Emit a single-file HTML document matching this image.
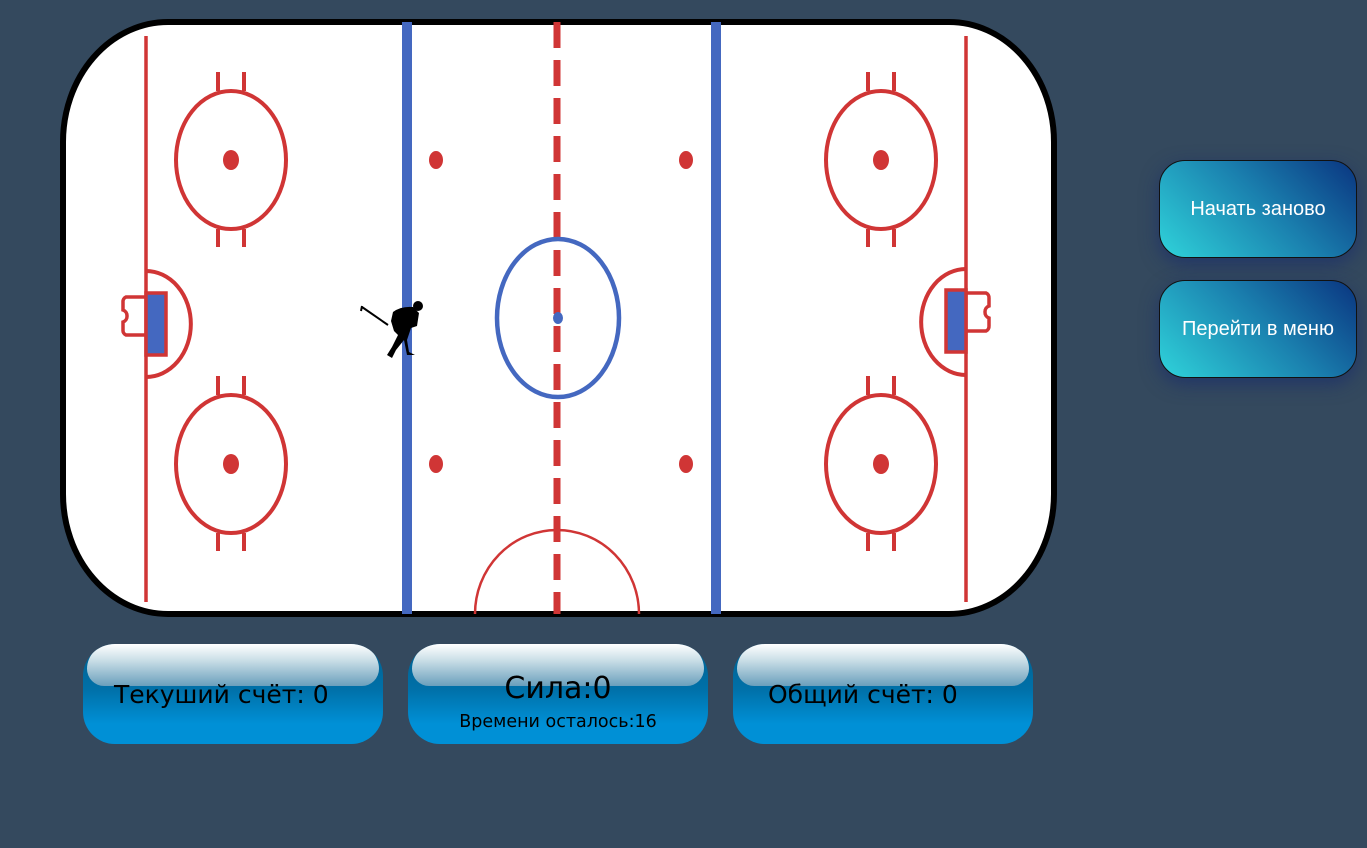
<!DOCTYPE html>
<html><head><meta charset="utf-8"><style>
body{margin:0;width:1367px;height:848px;background:#34495e;position:relative;overflow:hidden;font-family:"DejaVu Sans","Liberation Sans",sans-serif}
.btn{position:absolute;left:1159px;width:196px;height:96px;border:1px solid #111;border-radius:26px;background:linear-gradient(45deg,#2fd3da 0%,#1a7fae 55%,#0a3580 100%);color:#fff;font-family:"Liberation Sans",sans-serif;font-size:20px;display:flex;align-items:center;justify-content:center;box-shadow:0 6px 18px rgba(20,40,110,.6)}
.panel{position:absolute;top:644px;width:300px;height:100px;border-radius:32px;background:linear-gradient(#00608f 0%,#0070a8 45%,#0090d6 80%,#0090d6 100%);overflow:hidden}
.gloss{position:absolute;left:4px;right:4px;top:0;height:42px;border-radius:26px 26px 18px 18px;background:linear-gradient(#fff 0%,#c8dde6 40%,#6a9fbc 100%)}
.pt{position:absolute;color:#000;white-space:nowrap}
</style></head><body>
<svg width="1367" height="848" style="position:absolute;left:0;top:0">
<defs><clipPath id="rk"><rect x="63" y="22" width="991" height="592" rx="105" ry="120"/></clipPath></defs>
<rect x="63" y="22" width="991" height="592" rx="105" ry="120" fill="#fff" stroke="#000" stroke-width="6"/>
<g clip-path="url(#rk)" fill="none">
<line x1="146" y1="36" x2="146" y2="602" stroke="#d03535" stroke-width="3.5"/>
<line x1="966" y1="36" x2="966" y2="602" stroke="#d03535" stroke-width="3.5"/>
<line x1="407" y1="22" x2="407" y2="614" stroke="#4468c0" stroke-width="10"/>
<line x1="716" y1="22" x2="716" y2="614" stroke="#4468c0" stroke-width="10"/>
<line x1="557" y1="22" x2="557" y2="614" stroke="#d03535" stroke-width="7" stroke-dasharray="26 12"/>
<ellipse cx="558" cy="318" rx="61" ry="79" stroke="#4468c0" stroke-width="4.5"/>
<ellipse cx="558" cy="318" rx="5" ry="6" fill="#4468c0"/>
<ellipse cx="557" cy="614" rx="82" ry="84" stroke="#d03535" stroke-width="2.5"/>
<g stroke="#d03535" stroke-width="4">
<ellipse cx="231" cy="160" rx="55" ry="69"/><ellipse cx="231" cy="464" rx="55" ry="69"/>
<ellipse cx="881" cy="160" rx="55" ry="69"/><ellipse cx="881" cy="464" rx="55" ry="69"/>
<path d="M218 72v19M244 72v19M218 229v18M244 229v18M218 376v19M244 376v19M218 533v18M244 533v18"/>
<path d="M868 72v19M894 72v19M868 229v18M894 229v18M868 376v19M894 376v19M868 533v18M894 533v18"/>
<path d="M146 271 A44 52 0 0 1 146 377"/>
<path d="M966 269 A44 52 0 0 0 966 375"/>
<path d="M146 297h-20a5 5 0 0 0-3 5v8a6 6 0 0 1 4 6a6 6 0 0 1-4 6v8a5 5 0 0 0 3 5h20" stroke-width="3.5"/>
<path d="M966 293h20a5 5 0 0 1 3 5v8a6 6 0 0 0-4 6a6 6 0 0 0 4 6v8a5 5 0 0 1-3 5h-20" stroke-width="3.5"/>
</g>
<rect x="146" y="293" width="20" height="62" fill="#4468c0" stroke="#d03535" stroke-width="3.5"/>
<rect x="946" y="290" width="20" height="62" fill="#4468c0" stroke="#d03535" stroke-width="3.5"/>
<g fill="#d03535">
<ellipse cx="231" cy="160" rx="8" ry="10"/><ellipse cx="231" cy="464" rx="8" ry="10"/>
<ellipse cx="881" cy="160" rx="8" ry="10"/><ellipse cx="881" cy="464" rx="8" ry="10"/>
<ellipse cx="436" cy="160" rx="7" ry="9"/><ellipse cx="686" cy="160" rx="7" ry="9"/>
<ellipse cx="436" cy="464" rx="7" ry="9"/><ellipse cx="686" cy="464" rx="7" ry="9"/>
</g>
</g>
<g>
<path d="M362 307l26 18" stroke="#000" stroke-width="2" fill="none"/>
<path d="M362 306l-1 5" stroke="#000" stroke-width="2"/>
<circle cx="418" cy="306" r="5" fill="#000"/>
<path d="M393 312q8-6 20-5l6 6l-2 13l-6 2l-4 12l2 12l6 3h-8l-3-15l-8 10l-4 8l-5-3l5-8l6-12l-4-4l-3-10z" fill="#000"/>
</g>
</svg>
<div class="btn" style="top:160px">Начать заново</div>
<div class="btn" style="top:280px">Перейти в меню</div>
<div class="panel" style="left:83px"><div class="gloss"></div><div class="pt" style="left:31px;top:36px;font-size:25px">Текуший счёт: 0</div></div>
<div class="panel" style="left:408px"><div class="gloss"></div><div class="pt" style="left:0;width:300px;text-align:center;top:27px;font-size:30px">Сила:0</div><div class="pt" style="left:0;width:300px;text-align:center;top:68px;font-size:17.5px">Времени осталось:16</div></div>
<div class="panel" style="left:733px"><div class="gloss"></div><div class="pt" style="left:35px;top:36px;font-size:25px">Общий счёт: 0</div></div>
</body></html>
